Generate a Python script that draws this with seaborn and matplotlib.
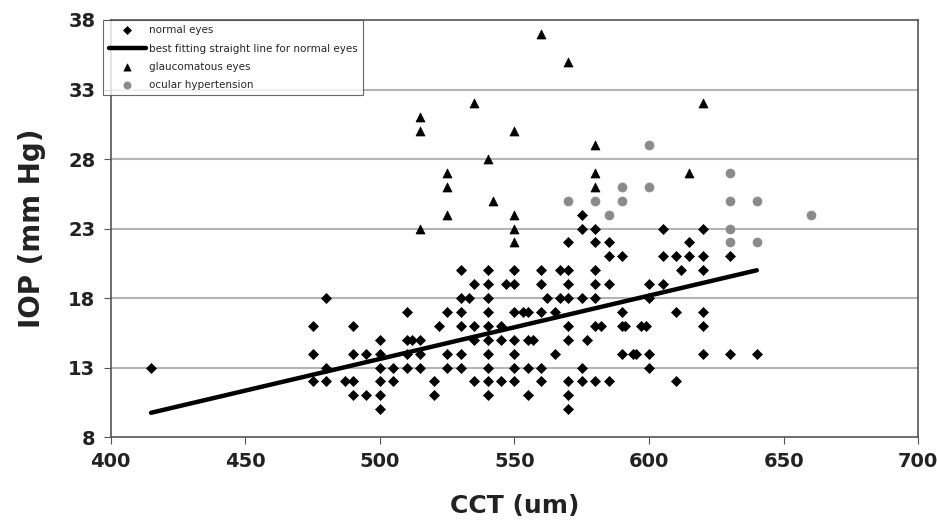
import matplotlib
matplotlib.use("Agg")
import matplotlib.pyplot as plt
import seaborn as sns
import pandas as pd

# ---- data ----
normal_cct = [415,
    475, 475, 475,
    480, 480, 480,
    487, 490, 490, 490, 490,
    495, 495,
    500, 500, 500, 500, 500, 500,
    505, 505,
    510, 510, 510, 510,
    512, 515, 515, 515,
    520, 520, 522,
    525, 525, 525,
    530, 530, 530, 530, 530, 530,
    533,
    535, 535, 535, 535,
    540, 540, 540, 540, 540, 540, 540, 540, 540, 540,
    545, 545, 545, 547,
    550, 550, 550, 550, 550, 550, 550,
    553, 555, 555, 557, 555, 555,
    560, 560, 560, 560, 560,
    562, 565, 565,
    567, 570, 567, 570,
    570, 570, 570, 570, 570, 570, 570,
    575, 575, 575, 575, 575,
    577,
    580, 580, 580, 580, 580, 580, 580,
    582,
    585, 585, 585, 585,
    590, 590, 590, 590, 591,
    594, 595, 597, 599,
    600, 600, 600, 600,
    605, 605, 605,
    610, 610, 610, 612,
    615, 615,
    620, 620, 620, 620, 620, 620,
    630, 630, 640]
normal_iop = [13,
    16, 14, 12,
    18, 13, 12,
    12, 12, 16, 14, 11,
    14, 11,
    15, 14, 13, 12, 11, 10,
    13, 12,
    17, 15, 14, 13,
    15, 15, 14, 13,
    12, 11, 16,
    17, 14, 13,
    20, 18, 17, 16, 14, 13,
    18,
    19, 16, 15, 12,
    20, 19, 18, 17, 16, 15, 14, 13, 12, 11,
    16, 15, 12, 19,
    20, 19, 17, 15, 14, 13, 12,
    17, 17, 15, 15, 13, 11,
    20, 19, 17, 13, 12,
    18, 17, 14,
    20, 20, 18, 18,
    22, 19, 16, 15, 12, 11, 10,
    24, 23, 18, 13, 12,
    15,
    23, 22, 20, 19, 18, 16, 12,
    16,
    22, 21, 19, 12,
    21, 17, 16, 14, 16,
    14, 14, 16, 16,
    19, 18, 14, 13,
    23, 21, 19,
    21, 17, 12, 20,
    22, 21,
    23, 21, 20, 17, 16, 14,
    21, 14, 14]

glauc_cct = [560, 570, 535, 620, 515, 515, 550, 580, 540, 525, 580, 615,
             525, 580, 542, 525, 550, 515, 550, 550]
glauc_iop = [37, 35, 32, 32, 31, 30, 30, 29, 28, 27, 27, 27,
             26, 26, 25, 24, 24, 23, 23, 22]

oht_cct = [600, 630, 590, 600, 570, 580, 590, 630, 640, 585, 660, 630, 630, 640]
oht_iop = [29, 27, 26, 26, 25, 25, 25, 25, 25, 24, 24, 23, 22, 22]

fit_cct = [415, 640]
fit_iop = [9.75, 20.0]

x_ticks = [400, 450, 500, 550, 600, 650, 700]
y_ticks = [8, 13, 18, 23, 28, 33, 38]

# ---- plot ----
sns.set_theme(style="white")
plt.rcParams['font.family'] = ['DejaVu Sans']

fig = plt.figure(figsize=(9.38, 5.26), dpi=100)
ax = fig.add_axes([0.118, 0.169, 0.861, 0.793])

for y in y_ticks[1:-1]:
    ax.axhline(y, color="#b4b4b4", lw=1.5, zorder=0)

df_n = pd.DataFrame({"CCT": normal_cct, "IOP": normal_iop})
df_g = pd.DataFrame({"CCT": glauc_cct, "IOP": glauc_iop})
df_o = pd.DataFrame({"CCT": oht_cct, "IOP": oht_iop})
df_f = pd.DataFrame({"CCT": fit_cct, "IOP": fit_iop})

sns.scatterplot(data=df_n, x="CCT", y="IOP", marker="D", s=26, color="black",
                edgecolor="black", linewidth=0.5, ax=ax, label="normal eyes", zorder=3)
sns.lineplot(data=df_f, x="CCT", y="IOP", color="black", lw=3.2, ax=ax,
             label="best fitting straight line for normal eyes", zorder=4)
sns.scatterplot(data=df_g, x="CCT", y="IOP", marker="^", s=42, color="black",
                edgecolor="black", linewidth=0.5, ax=ax, label="glaucomatous eyes", zorder=3)
sns.scatterplot(data=df_o, x="CCT", y="IOP", marker="o", s=42, color="#8a8a8a",
                edgecolor="#8a8a8a", linewidth=0.5, ax=ax, label="ocular hypertension", zorder=3)

ax.set_xlim(400, 700)
ax.set_ylim(8, 38)
ax.set_xticks(x_ticks)
ax.set_yticks(y_ticks)
ax.set_xticklabels([str(v) for v in x_ticks], fontsize=14, fontweight="bold", color="#222222")
ax.set_yticklabels([str(v) for v in y_ticks], fontsize=14, fontweight="bold", color="#222222")
ax.tick_params(axis="both", which="both", direction="out", length=5, width=0.8,
               color="#555555", bottom=True, left=True, pad=6)
ax.set_xlabel("CCT (um)", fontsize=18, fontweight="bold", labelpad=16, color="#222222")
ax.set_ylabel("IOP (mm Hg)", fontsize=20, fontweight="bold", labelpad=16, color="#222222")

for sp in ax.spines.values():
    sp.set_visible(True)
    sp.set_color("#555555")
    sp.set_linewidth(1.2)

leg = ax.legend(loc="upper left", bbox_to_anchor=(-0.009, 1.0), fontsize=7.5,
                frameon=True, fancybox=False, borderaxespad=0.0, handlelength=3.6,
                handletextpad=0.3, labelspacing=0.8, borderpad=0.5, markerscale=0.8)
leg.get_frame().set_edgecolor("#444444")
leg.get_frame().set_linewidth(0.8)

fig.savefig("out.png", dpi=100, facecolor="white")
